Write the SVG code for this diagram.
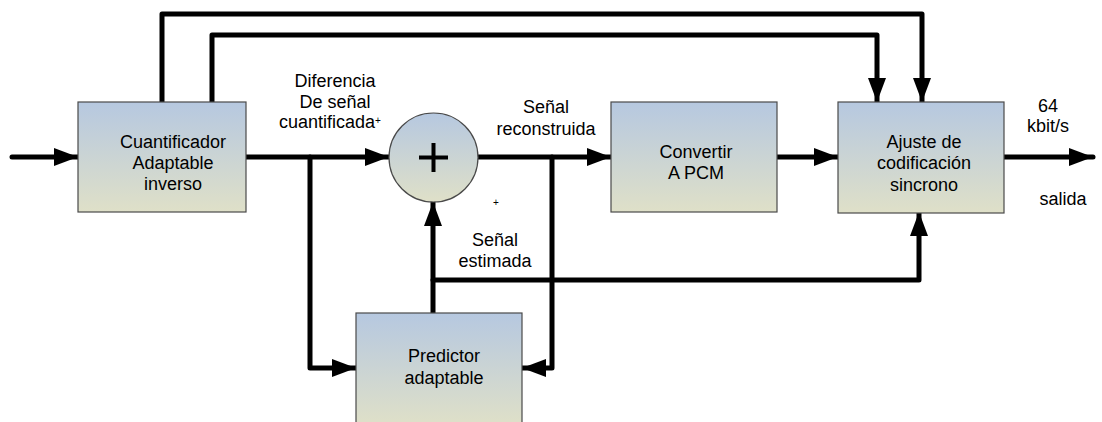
<svg xmlns="http://www.w3.org/2000/svg" width="1102" height="422" viewBox="0 0 1102 422">
<style>
.box{stroke:#4a4a4a;stroke-width:1.2;fill:url(#g)}
.t{font-family:"Liberation Sans",Arial,sans-serif;font-size:18px;fill:#000;text-anchor:middle}
.w{fill:none;stroke:#000;stroke-width:5;stroke-linejoin:round;stroke-linecap:round}
.a{marker-end:url(#ah)}
</style>
<defs>
<linearGradient id="g" x1="0" y1="0" x2="0" y2="1">
<stop offset="0" stop-color="#b6c8e0"/>
<stop offset="1" stop-color="#dfe0c8"/>
</linearGradient>
<marker id="ah" viewBox="0 0 24 18" refX="24" refY="9" markerWidth="24" markerHeight="18" markerUnits="userSpaceOnUse" orient="auto">
<path d="M0,0 L24,9 L0,18 Z" fill="#000"/>
</marker>
</defs>
<g id="connectors">
<path class="w a" d="M12,157 H78"/>
<path class="w a" d="M246,157 H389"/>
<path class="w a" d="M478,157 H611"/>
<path class="w a" d="M777,157 H838"/>
<path class="w a" d="M1004,157 H1093"/>
<path class="w a" d="M162,102 V14 H922 V102"/>
<path class="w a" d="M212,102 V35 H877 V102"/>
<path class="w a" d="M310,157 V368 H356"/>
<path class="w a" d="M552,157 V368 H522"/>
<path class="w a" d="M433,313 V202"/>
<path class="w a" d="M433,280 H919 V212"/>
</g>
<g id="cuantificador">
<rect class="box" x="78" y="102" width="168" height="110"/>
<text class="t" x="173" y="148">Cuantificador</text>
<text class="t" x="173" y="169">Adaptable</text>
<text class="t" x="173" y="190">inverso</text>
</g>
<g id="sumador">
<circle class="box" cx="433.5" cy="157.5" r="44.5"/>
<path d="M433.5,143 V172 M419,157.5 H448" stroke="#000" stroke-width="4"/>
</g>
<g id="convertir">
<rect class="box" x="611" y="102" width="166" height="110"/>
<text class="t" x="696" y="158">Convertir</text>
<text class="t" x="696" y="179">A PCM</text>
</g>
<g id="ajuste">
<rect class="box" x="838" y="102" width="166" height="111"/>
<text class="t" x="924" y="148">Ajuste de</text>
<text class="t" x="924" y="169">codificación</text>
<text class="t" x="924" y="191">sincrono</text>
</g>
<g id="predictor">
<rect class="box" x="356" y="313" width="166" height="112"/>
<text class="t" x="444" y="362">Predictor</text>
<text class="t" x="444" y="384">adaptable</text>
</g>
<g id="labels">
<text class="t" x="335" y="87">Diferencia</text>
<text class="t" x="335" y="108">De señal</text>
<text class="t" x="327" y="128">cuantificada</text>
<text class="t" x="378" y="124" style="font-size:10px">+</text>
<text class="t" x="546" y="113">Señal</text>
<text class="t" x="546" y="135">reconstruida</text>
<text class="t" x="496" y="206" style="font-size:10px">+</text>
<text class="t" x="495" y="246">Señal</text>
<text class="t" x="495" y="267">estimada</text>
<text class="t" x="1048" y="112">64</text>
<text class="t" x="1048" y="132">kbit/s</text>
<text class="t" x="1063" y="205">salida</text>
</g>
</svg>
